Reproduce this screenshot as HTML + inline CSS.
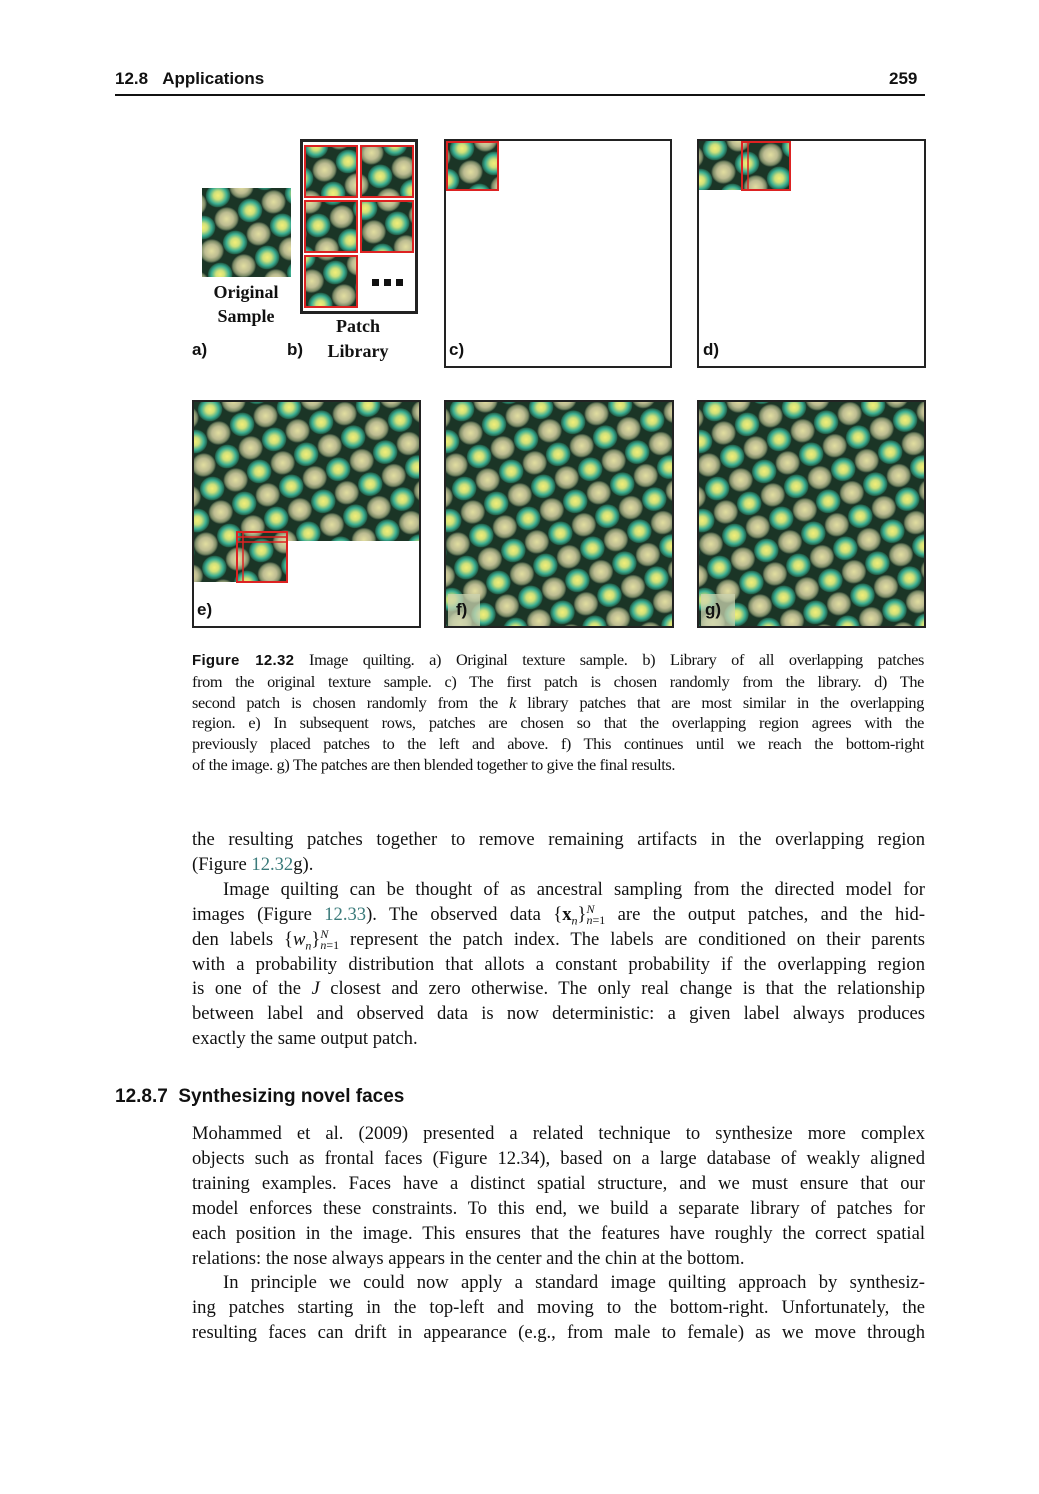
<!DOCTYPE html>
<html><head><meta charset="utf-8">
<style>
body{margin:0;background:#fff;width:1039px;height:1494px;position:relative;overflow:hidden;font-family:"Liberation Serif",serif;color:#111}
.abs{position:absolute}
.hdr{font-family:"Liberation Sans",sans-serif;font-weight:bold;font-size:17px}
.box{position:absolute;border:2px solid #222;box-sizing:border-box;background:#fff}
.lbl{position:absolute;font-family:"Liberation Sans",sans-serif;font-weight:bold;font-size:17px}
.sl{position:absolute;font-weight:bold;font-size:18px;text-align:center;width:120px}
.cap div,.body div{text-align:justify;text-align-last:justify;white-space:nowrap}
.cap{position:absolute;left:192px;width:732px;font-size:16.3px;line-height:20.8px;letter-spacing:-0.35px}
.body{position:absolute;left:192px;width:733px;font-size:18.6px;line-height:24.9px}
.cap div.last,.body div.last{text-align-last:left}
.lnk{color:#3a7a7a}
svg{position:absolute;display:block}
sub,sup{font-size:12px;line-height:0}
</style></head><body>
<svg width="0" height="0" style="position:absolute">
<defs>
<radialGradient id="gA" cx="50%" cy="50%" r="50%">
<stop offset="0" stop-color="#f4ef78"/><stop offset="0.35" stop-color="#cfe07a"/><stop offset="0.72" stop-color="#3aae92"/><stop offset="1" stop-color="#1e5a44"/></radialGradient>
<radialGradient id="gB" cx="50%" cy="50%" r="50%">
<stop offset="0" stop-color="#e2dea0"/><stop offset="0.55" stop-color="#bdbc92"/><stop offset="0.85" stop-color="#7a8a66"/><stop offset="1" stop-color="#2e4434"/></radialGradient>
<pattern id="tex" width="50" height="50" patternUnits="userSpaceOnUse" patternTransform="rotate(-20)">
<rect width="50" height="50" fill="#1b3526"/>
<ellipse cx="12.5" cy="12.5" rx="12.3" ry="11.8" fill="url(#gA)"/>
<ellipse cx="37.5" cy="12.5" rx="12.3" ry="11.8" fill="url(#gB)"/>
<ellipse cx="12.5" cy="37.5" rx="12.3" ry="11.8" fill="url(#gB)"/>
<ellipse cx="37.5" cy="37.5" rx="12.3" ry="11.8" fill="url(#gA)"/>
</pattern>
</defs></svg>

<div class="abs hdr" style="left:115px;top:69px">12.8&nbsp;&nbsp;&nbsp;Applications</div>
<div class="abs hdr" style="left:889px;top:69px">259</div>
<div class="abs" style="left:115px;top:94px;width:810px;height:1.5px;background:#111"></div>

<svg style="left:202px;top:188px" width="89" height="89"><rect width="89" height="89" fill="url(#tex)"/></svg>
<div class="sl" style="left:186px;top:280px;line-height:24px">Original<br>Sample</div>
<div class="lbl" style="left:192px;top:340px">a)</div>

<div class="box" style="left:300px;top:139px;width:118px;height:175px;border-width:3px"></div>
<svg style="left:300px;top:139px" width="118" height="175">
<g stroke="#d22" stroke-width="2">
<rect x="5" y="7" width="52" height="51" fill="url(#tex)"/>
<rect x="61" y="7" width="52" height="51" fill="url(#tex)"/>
<rect x="5" y="62" width="52" height="51" fill="url(#tex)"/>
<rect x="61" y="62" width="52" height="51" fill="url(#tex)"/>
<rect x="5" y="117" width="52" height="51" fill="url(#tex)"/>
</g>
<rect x="72" y="140" width="7" height="7" fill="#111"/><rect x="84" y="140" width="7" height="7" fill="#111"/><rect x="96" y="140" width="7" height="7" fill="#111"/>
</svg>
<div class="sl" style="left:298px;top:314px;line-height:25px">Patch<br>Library</div>
<div class="lbl" style="left:287px;top:340px">b)</div>

<div class="box" style="left:444px;top:139px;width:228px;height:229px"></div>
<svg style="left:446px;top:141px" width="53" height="50"><rect x="1" y="1" width="51" height="48" fill="url(#tex)" stroke="#d22" stroke-width="2"/></svg>
<div class="lbl" style="left:449px;top:340px">c)</div>

<div class="box" style="left:697px;top:139px;width:229px;height:229px"></div>
<svg style="left:699px;top:141px" width="93" height="50">
<rect x="0" y="0" width="48" height="49" fill="url(#tex)"/>
<rect x="43" y="1" width="48" height="48" fill="url(#tex)" stroke="#d22" stroke-width="2"/>
<rect x="43" y="1" width="6" height="48" fill="none" stroke="#d22" stroke-width="1.5"/>
</svg>
<div class="lbl" style="left:703px;top:340px">d)</div>

<div class="box" style="left:192px;top:400px;width:229px;height:228px"></div>
<svg style="left:194px;top:402px" width="225" height="224">
<rect x="0" y="0" width="225" height="139" fill="url(#tex)"/>
<rect x="0" y="139" width="93" height="41" fill="url(#tex)"/>
<rect x="43" y="130" width="50" height="50" fill="none" stroke="#d22" stroke-width="2"/>
<rect x="43" y="135" width="50" height="5" fill="none" stroke="#d22" stroke-width="1.5"/>
<rect x="43" y="130" width="6" height="50" fill="none" stroke="#d22" stroke-width="1.5"/>
</svg>
<div class="lbl" style="left:197px;top:600px">e)</div>

<div class="box" style="left:444px;top:400px;width:230px;height:228px"></div>
<svg style="left:446px;top:402px" width="226" height="224"><rect width="226" height="224" fill="url(#tex)"/><rect x="2" y="192" width="32" height="32" fill="#ccd4b0" opacity="0.75"/></svg>
<div class="lbl" style="left:456px;top:600px">f)</div>

<div class="box" style="left:697px;top:400px;width:229px;height:228px"></div>
<svg style="left:699px;top:402px" width="225" height="224"><rect width="225" height="224" fill="url(#tex)"/><rect x="2" y="192" width="34" height="32" fill="#ccd4b0" opacity="0.75"/></svg>
<div class="lbl" style="left:705px;top:600px">g)</div>

<div class="cap" style="top:650px">
<div><span style="font-family:'Liberation Sans',sans-serif;font-weight:bold;letter-spacing:0.3px;font-size:15px">Figure 12.32</span> Image quilting. a) Original texture sample. b) Library of all overlapping patches</div>
<div>from the original texture sample. c) The first patch is chosen randomly from the library. d) The</div>
<div>second patch is chosen randomly from the <i>k</i> library patches that are most similar in the overlapping</div>
<div>region. e) In subsequent rows, patches are chosen so that the overlapping region agrees with the</div>
<div>previously placed patches to the left and above. f) This continues until we reach the bottom-right</div>
<div class="last">of the image. g) The patches are then blended together to give the final results.</div>
</div>

<div class="body" style="top:828px">
<div>the resulting patches together to remove remaining artifacts in the overlapping region</div>
<div class="last">(Figure <span class="lnk">12.32</span>g).</div>
<div style="padding-left:31px">Image quilting can be thought of as ancestral sampling from the directed model for</div>
<div>images (Figure <span class="lnk">12.33</span>). The observed data {<b>x</b><sub><i>n</i></sub>}<sup><i>N</i></sup><sub style="margin-left:-8px"><i>n</i>=1</sub> are the output patches, and the hid-</div>
<div>den labels {<i>w<sub>n</sub></i>}<sup><i>N</i></sup><sub style="margin-left:-8px"><i>n</i>=1</sub> represent the patch index. The labels are conditioned on their parents</div>
<div>with a probability distribution that allots a constant probability if the overlapping region</div>
<div>is one of the <i>J</i> closest and zero otherwise. The only real change is that the relationship</div>
<div>between label and observed data is now deterministic: a given label always produces</div>
<div class="last">exactly the same output patch.</div>
</div>

<div class="abs" style="left:115px;top:1086px;font-family:'Liberation Sans',sans-serif;font-weight:bold;font-size:19px">12.8.7&nbsp;&nbsp;Synthesizing novel faces</div>

<div class="body" style="top:1122px">
<div>Mohammed et al. (2009) presented a related technique to synthesize more complex</div>
<div>objects such as frontal faces (Figure 12.34), based on a large database of weakly aligned</div>
<div>training examples. Faces have a distinct spatial structure, and we must ensure that our</div>
<div>model enforces these constraints. To this end, we build a separate library of patches for</div>
<div>each position in the image. This ensures that the features have roughly the correct spatial</div>
<div class="last">relations: the nose always appears in the center and the chin at the bottom.</div>
<div style="padding-left:31px">In principle we could now apply a standard image quilting approach by synthesiz-</div>
<div>ing patches starting in the top-left and moving to the bottom-right. Unfortunately, the</div>
<div>resulting faces can drift in appearance (e.g., from male to female) as we move through</div>
</div>
</body></html>
